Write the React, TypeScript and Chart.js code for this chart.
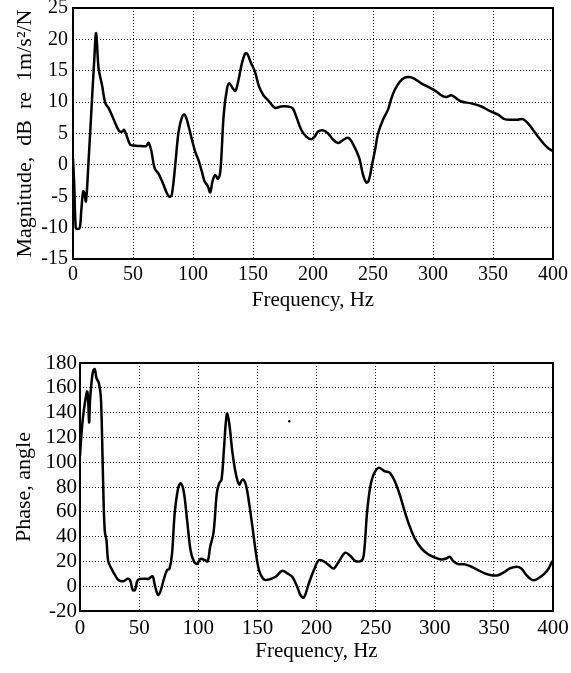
import React, { useEffect, useRef } from "react";
import { Chart, registerables } from "chart.js";

Chart.register(...registerables);

// ---- Data ----
const magFreq = [
  0, 1, 2.3, 4, 5.7, 7, 8.5, 9.5, 10.8, 12.8, 15.6, 17.5, 19.3, 21.3, 24.1, 27, 29.8, 34, 38.4, 41.2,
  42.6, 45, 47.7, 51, 56.8, 61, 63, 65.3, 68, 71.6, 75.3, 78, 80.4, 82.4, 85.2, 88, 91, 93.2, 96, 99.4,
  102, 104.5, 107.3, 109.6, 112.4, 114.3, 116.3, 118.5, 120.8, 122.8, 125.6, 128.4, 130.3, 133.1, 135.4,
  138.2, 140.4, 143.3, 145.2, 148, 151.7, 155, 158.7, 163.5, 168.3, 173.3, 178.9, 183.1, 186, 190.2,
  194.4, 198.6, 201.4, 204.2, 208.4, 212.6, 216.9, 221.1, 225.3, 229.5, 233.7, 238.5, 241.6, 244.4,
  246.3, 249.2, 252, 254.2, 258.3, 262.5, 265.3, 268, 272.2, 276.4, 280.6, 284.7, 290.3, 297.2, 302.8,
  306.9, 311.1, 315.3, 319.4, 323.6, 331.9, 340.3, 347.2, 354.2, 359.7, 365.3, 370.8, 375, 379.2, 383.3,
  387.5, 391.7, 395.8, 400,
];
const magDb = [
  1, -3, -10, -10.2, -10, -7, -4.2, -4.5, -5.8, 0, 9.6, 16, 21, 15.4, 12.8, 9.8, 9, 7.2, 5.4, 5.3,
  5.6, 4.5, 3.2, 3.1, 3.0, 3.0, 3.5, 2.2, -0.5, -1.5, -3.1, -4.4, -5.1, -4.7, 0, 5.3, 7.7, 8.0, 6.4, 3.8,
  2.0, 0.8, -1.0, -2.6, -3.4, -4.4, -2.6, -1.6, -2.2, -1.0, 8.0, 12.2, 13.0, 12.2, 11.8,
  13.8, 15.9, 17.7, 17.7, 16.4, 14.8, 12.5, 11.1, 10.1, 9.1, 9.3, 9.3, 9.0, 7.7, 5.6,
  4.5, 4.1, 4.5, 5.3, 5.5, 5.0, 4.0, 3.5, 4.0, 4.3, 3.2, 1.1, -1.5, -2.8,
  -2.6, 0, 2.7, 5.0, 7.2, 8.8, 10.6, 11.9, 13.2, 13.9, 14.0, 13.7, 13.0, 12.3, 11.7,
  11.1, 10.8, 11.1, 10.6, 10.1, 9.8, 9.3, 8.6, 8.0, 7.3, 7.2, 7.2, 7.3, 6.6, 5.6,
  4.5, 3.5, 2.7, 2.2,
];

const phaseFreq = [
  0, 1.1, 2.6, 4.5, 6, 6.8, 7.7, 8.5, 9.7, 11.1, 12.5, 13.9, 15.9, 17.6, 18.8, 19.9, 21, 22.4, 23.9,
  26.7, 29, 32.4, 36.6, 40.3, 42.3, 44.6, 46.6, 48.9, 53.7, 58, 61.4, 63, 65.9, 67.9, 70.7, 73.6, 75.6,
  77.8, 80.1, 83, 85.2, 87.8, 90.6, 93.5, 96.3, 99.1, 102, 105.7, 108, 110.1, 112.9, 115.7, 117.7, 119.7,
  121.9, 124.2, 126.1, 128.9, 131.7, 134.6, 137.4, 140.2, 143, 145.8, 148.6, 151.4, 155.6, 159.8, 165.4,
  171.1, 175.3, 179.5, 183.7, 186.5, 189.3, 193.5, 197.8, 202, 206.2, 210.4, 214.6, 218.8, 224.4, 228.7,
  232.9, 238.5, 240.4, 242.7, 245.5, 248.3, 252.5, 257.7, 262, 266.2, 270.4, 274.6, 278.9, 283.1, 288.7,
  294.4, 300, 305.6, 309.9, 312.7, 315.5, 319.7, 325.4, 331, 336.6, 342.3, 347.9, 353.5, 359.2, 363.4,
  369, 373.2, 377.5, 381.7, 384.5, 388.7, 393, 396.3, 399.2, 400,
];
const phaseDeg = [
  105, 121, 137, 150, 157, 152, 132, 150, 164, 173.5, 175, 168, 164, 153, 115, 70, 44, 37, 20,
  14, 10, 5, 4, 6, 5, -3, -3, 5, 6, 6, 8, 2, -7, -4.6, 5, 13, 14,
  26, 59, 79, 83, 76, 53, 29, 20, 18, 22, 21, 20, 32, 43, 75, 83, 86,
  113, 139, 132, 108, 91, 82, 86, 82, 67, 48, 28, 13, 5.4, 5.4, 7.6,
  12.4, 10.3, 7.6, -0.5, -7.3, -9.2, 2.2, 13, 21, 20, 17, 14.3, 19.7, 27, 24.3,
  20.3, 21, 29, 59, 80.5, 90, 95.4, 92.7, 91.4, 84.6, 73.8, 60.3, 48, 38.6, 30.5,
  25.7, 23.2, 21.6, 22.4, 23.8, 20.3, 17.8, 17.6, 15.7, 13, 10.3, 8.9, 8.9, 11.6, 14.3,
  15.7, 14.3, 8.9, 5.4, 4.9, 7, 10.3, 14.3, 19.7, 20,
];

// stray speck visible in the scanned phase plot
const strayFreq = [177];
const strayDeg = [133];

const freqTicks = [0, 50, 100, 150, 200, 250, 300, 350, 400];
const magTicks = [-15, -10, -5, 0, 5, 10, 15, 20, 25];
const phaseTicks = [-20, 0, 20, 40, 60, 80, 100, 120, 140, 160, 180];

const FONT = "'Liberation Serif', 'Times New Roman', Times, serif";

const framePlugin = {
  id: "frame",
  afterDraw(chart: any) {
    const { ctx, chartArea: a } = chart;
    ctx.save();
    ctx.strokeStyle = "#000";
    ctx.lineWidth = 2;
    ctx.strokeRect(a.left, a.top, a.right - a.left, a.bottom - a.top);
    ctx.restore();
  },
};

type Cfg = {
  xs: number[];
  ys: number[];
  sx?: number[];
  sy?: number[];
  yTicks: number[];
  yTitle: string;
  yWidth: number;
  xHeight: number;
  padTop: number;
  tickSize: number;
  xTitleSize: number;
  yTitleSize: number;
  xTitlePad: number;
  yTitlePad: number;
  xTickPad: number;
  yTickPad: number;
};

function makeConfig(c: Cfg): any {
  const datasets: any[] = [
    {
      data: c.xs.map((x, i) => ({ x, y: c.ys[i] })),
      borderColor: "#000",
      borderWidth: 2.5,
      pointRadius: 0,
      tension: 0.35,
      fill: false,
    },
  ];
  if (c.sx && c.sy) {
    datasets.push({
      data: c.sx.map((x, i) => ({ x, y: c.sy![i] })),
      showLine: false,
      pointRadius: 1.2,
      pointBackgroundColor: "#000",
      pointBorderWidth: 0,
    });
  }
  const gridCommon = {
    color: "#222",
    lineWidth: 1,
    drawTicks: false,
  };
  return {
    type: "line",
    data: { datasets },
    options: {
      animation: false,
      responsive: false,
      events: [],
      layout: { padding: { top: c.padTop, right: 18, left: 0, bottom: 0 } },
      plugins: { legend: { display: false }, tooltip: { enabled: false } },
      scales: {
        x: {
          type: "linear",
          min: 0,
          max: 400,
          grid: gridCommon,
          border: { display: false, dash: [1, 2] },
          afterBuildTicks: (s: any) => {
            s.ticks = freqTicks.map((v) => ({ value: v }));
          },
          afterFit: (s: any) => {
            s.height = c.xHeight;
            s.paddingLeft = 0;
            s.paddingRight = 0;
          },
          ticks: {
            color: "#000",
            padding: c.xTickPad,
            maxRotation: 0,
            autoSkip: false,
            font: { family: FONT, size: c.tickSize },
          },
          title: {
            display: true,
            text: "Frequency, Hz",
            color: "#000",
            font: { family: FONT, size: c.xTitleSize },
            padding: { top: 0, bottom: c.xTitlePad },
          },
        },
        y: {
          type: "linear",
          min: c.yTicks[0],
          max: c.yTicks[c.yTicks.length - 1],
          grid: gridCommon,
          border: { display: false, dash: [1, 2] },
          afterBuildTicks: (s: any) => {
            s.ticks = c.yTicks.map((v) => ({ value: v }));
          },
          afterFit: (s: any) => {
            s.width = c.yWidth;
            s.paddingTop = 0;
            s.paddingBottom = 0;
          },
          ticks: {
            color: "#000",
            padding: c.yTickPad,
            autoSkip: false,
            font: { family: FONT, size: c.tickSize },
          },
          title: {
            display: true,
            text: c.yTitle,
            color: "#000",
            font: { family: FONT, size: c.yTitleSize },
            padding: { top: c.yTitlePad, bottom: 0 },
          },
        },
      },
    },
    plugins: [framePlugin],
  };
}

function ChartCanvas({ cfg, width, height, top }: { cfg: Cfg; width: number; height: number; top: number }) {
  const ref = useRef<HTMLCanvasElement | null>(null);
  useEffect(() => {
    if (!ref.current) return;
    const chart = new Chart(ref.current, makeConfig(cfg));
    return () => chart.destroy();
  }, []);
  return (
    <canvas
      ref={ref}
      width={width}
      height={height}
      style={{ position: "absolute", left: 0, top, width, height, display: "block" }}
    />
  );
}

export default function App() {
  useEffect(() => {
    document.body.style.margin = "0";
    document.body.style.background = "#fff";
  }, []);
  const magCfg: Cfg = {
    xs: magFreq,
    ys: magDb,
    yTicks: magTicks,
    yTitle: "Magnitude,  dB  re  1m/s\u00B2/N",
    yWidth: 73,
    xHeight: 61,
    padTop: 8,
    tickSize: 20,
    xTitleSize: 21,
    yTitleSize: 22,
    xTitlePad: 7,
    yTitlePad: 12,
    xTickPad: 4,
    yTickPad: 5,
  };
  const phaseCfg: Cfg = {
    xs: phaseFreq,
    ys: phaseDeg,
    sx: strayFreq,
    sy: strayDeg,
    yTicks: phaseTicks,
    yTitle: "Phase, angle",
    yWidth: 80,
    xHeight: 62,
    padTop: 43,
    tickSize: 21,
    xTitleSize: 21,
    yTitleSize: 22,
    xTitlePad: 9,
    yTitlePad: 11,
    xTickPad: 5,
    yTickPad: 3,
  };
  return (
    <div style={{ position: "absolute", left: 0, top: 0, width: 571, height: 673, background: "#fff" }}>
      <ChartCanvas cfg={magCfg} width={571} height={320} top={0} />
      <ChartCanvas cfg={phaseCfg} width={571} height={353} top={320} />
    </div>
  );
}
